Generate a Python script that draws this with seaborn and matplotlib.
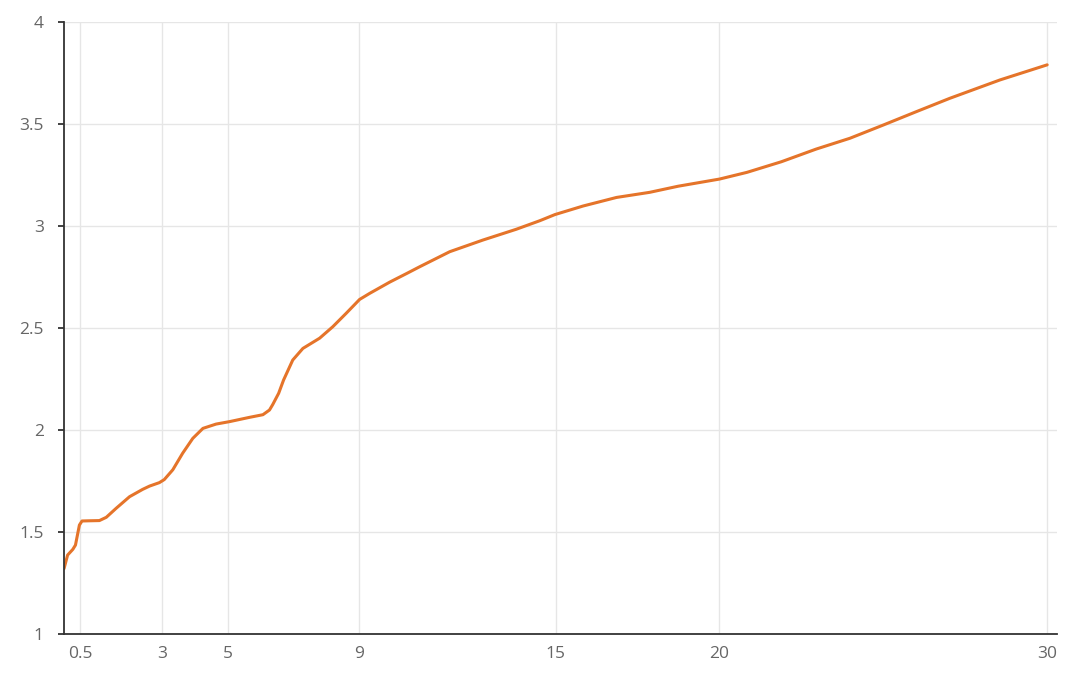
import matplotlib
matplotlib.use("Agg")
import matplotlib.pyplot as plt
import seaborn as sns
import pandas as pd

# Data
x_vals = [0, 0.11, 0.27, 0.35, 0.47, 0.55, 0.78, 1.08, 1.29, 1.59, 2.0, 2.4,
          2.61, 2.91, 3.06, 3.32, 3.62, 3.93, 4.24, 4.64, 5.05, 5.66, 6.07,
          6.27, 6.37, 6.55, 6.7, 6.98, 7.29, 7.8, 8.2, 8.61, 9.02, 9.33, 9.94,
          10.49, 10.85, 11.77, 12.78, 13.8, 14.52, 14.98, 15.84, 16.86, 17.87,
          18.74, 20.0, 20.84, 21.89, 22.95, 23.98, 25.0, 26.0, 27.03, 28.56,
          30.0]
y_vals = [1.32, 1.387, 1.415, 1.436, 1.534, 1.554, 1.555, 1.556, 1.572, 1.616,
          1.673, 1.709, 1.725, 1.742, 1.757, 1.805, 1.886, 1.959, 2.008, 2.029,
          2.041, 2.062, 2.075, 2.098, 2.125, 2.18, 2.245, 2.343, 2.40, 2.45,
          2.506, 2.572, 2.64, 2.67, 2.725, 2.77, 2.80, 2.874, 2.931, 2.984,
          3.026, 3.056, 3.098, 3.14, 3.165, 3.195, 3.23, 3.263, 3.315, 3.377,
          3.43, 3.495, 3.56, 3.626, 3.716, 3.79]
x_ticks = [0.5, 3, 5, 9, 15, 20, 30]
x_tick_labels = ["0.5", "3", "5", "9", "15", "20", "30"]
y_ticks = [1, 1.5, 2, 2.5, 3, 3.5, 4]
y_tick_labels = ["1", "1.5", "2", "2.5", "3", "3.5", "4"]

df = pd.DataFrame({"x": x_vals, "y": y_vals})

sns.set_theme(style="white")
plt.rcParams["font.family"] = ["Open Sans", "DejaVu Sans"]

fig = plt.figure(figsize=(10.8, 6.73), dpi=100)
ax = fig.add_axes([64 / 1080, 39 / 673, (1057 - 64) / 1080, (634 - 22) / 673])

sns.lineplot(data=df, x="x", y="y", ax=ax, color="#E5742A", linewidth=2.2,
             sort=False, estimator=None)
ax.lines[0].set_solid_joinstyle("round")
ax.lines[0].set_solid_capstyle("round")

ax.set_xlim(0, 30.3)
ax.set_ylim(1, 4)
ax.set_xticks(x_ticks)
ax.set_xticklabels(x_tick_labels)
ax.set_yticks(y_ticks)
ax.set_yticklabels(y_tick_labels)
ax.set_xlabel("")
ax.set_ylabel("")

ax.grid(True, color="#e6e6e6", linewidth=1.0)
ax.set_axisbelow(True)

for s in ["top", "right"]:
    ax.spines[s].set_visible(False)
for s in ["left", "bottom"]:
    ax.spines[s].set_color("#333333")
    ax.spines[s].set_linewidth(1.3)

ax.tick_params(axis="y", length=4.5, width=1.3, color="#333333", pad=10,
               labelsize=12.5, labelcolor="#666666", left=True)
ax.tick_params(axis="x", length=0, pad=9, labelsize=12.5, labelcolor="#666666")

fig.savefig("out.png", dpi=100, facecolor="white")
